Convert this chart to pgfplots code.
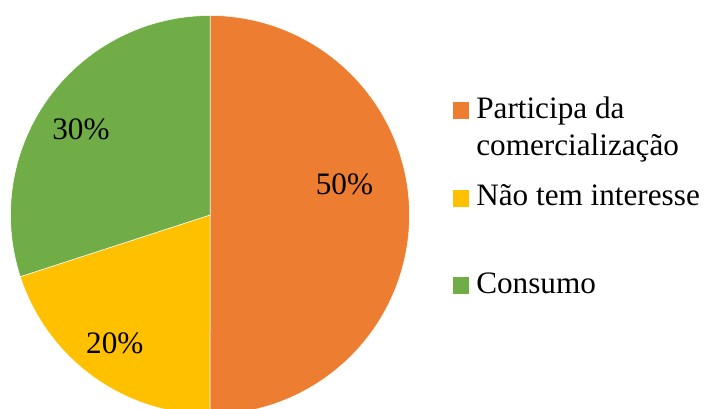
\documentclass[border=0pt]{standalone}
\usepackage{pgfplots}
\usepackage{pgfplotstable}
\pgfplotsset{compat=1.18}
\usepackage{fontspec}
\setmainfont{Liberation Serif}

\definecolor{sliceOrange}{HTML}{ED7D31}
\definecolor{sliceYellow}{HTML}{FFC000}
\definecolor{sliceGreen}{HTML}{70AD47}

% Shares in percent, drawn clockwise from 12 o'clock.
% lr = radius of the percentage label, loff = angular nudge of the label.
\pgfplotstableread{
share lr  loff
50    138 13
20    160 -0.5
30    155 2.4
}\pietable

\pgfplotstablegetelem{0}{share}\of\pietable\edef\sA{\pgfplotsretval}
\pgfplotstablegetelem{1}{share}\of\pietable\edef\sB{\pgfplotsretval}
\pgfplotstablegetelem{2}{share}\of\pietable\edef\sC{\pgfplotsretval}
\pgfplotstablegetelem{0}{lr}\of\pietable\edef\rA{\pgfplotsretval}
\pgfplotstablegetelem{1}{lr}\of\pietable\edef\rB{\pgfplotsretval}
\pgfplotstablegetelem{2}{lr}\of\pietable\edef\rC{\pgfplotsretval}
\pgfplotstablegetelem{0}{loff}\of\pietable\edef\oA{\pgfplotsretval}
\pgfplotstablegetelem{1}{loff}\of\pietable\edef\oB{\pgfplotsretval}
\pgfplotstablegetelem{2}{loff}\of\pietable\edef\oC{\pgfplotsretval}

% pie geometry (axis units = pt)
\def\cx{210}
\def\cy{193}
\def\R{199.5}

% slice boundaries in degrees
\pgfmathsetmacro{\aA}{90}
\pgfmathsetmacro{\aB}{\aA-3.6*\sA}
\pgfmathsetmacro{\aC}{\aB-3.6*\sB}
\pgfmathsetmacro{\aD}{\aC-3.6*\sC}

% label positions
\pgfmathsetmacro{\lxA}{\cx+\rA*cos((\aA+\aB)/2+\oA)}
\pgfmathsetmacro{\lyA}{\cy+\rA*sin((\aA+\aB)/2+\oA)}
\pgfmathsetmacro{\lxB}{\cx+\rB*cos((\aB+\aC)/2+\oB)}
\pgfmathsetmacro{\lyB}{\cy+\rB*sin((\aB+\aC)/2+\oB)}
\pgfmathsetmacro{\lxC}{\cx+\rC*cos((\aC+\aD)/2+\oC)}
\pgfmathsetmacro{\lyC}{\cy+\rC*sin((\aC+\aD)/2+\oC)}

\newcommand{\bigfont}{\fontsize{31.2}{37}\selectfont}
\newcommand{\pct}[1]{\pgfmathprintnumber[assume math mode=true]{#1}\%}

\begin{document}
\begin{tikzpicture}
\begin{axis}[
  width=707pt, height=408pt, scale only axis,
  xmin=0, xmax=707, ymin=0, ymax=408,
  hide axis, clip=true,
  legend cell align=left,
  legend image code/.code={\fill[#1,draw=none] (0pt,-1pt) rectangle (16.6pt,15.6pt);},
  legend style={
    at={(axis cs:452.7,320)}, anchor=north west,
    draw=none, fill=none, inner sep=0pt, outer sep=0pt,
    column sep=7pt, row sep=0pt,
    font=\bigfont,
    nodes={inner sep=0pt, text height=30pt, text depth=57.5pt, anchor=base west},
  },
]
\addplot[fill=sliceOrange, draw=white, line width=0.5pt, domain=\aB:\aA, samples=181]
  ({\cx+\R*cos(x)}, {\cy+\R*sin(x)}) -- (axis cs:\cx,\cy) -- cycle;
\addlegendentry{\vtop{\hbox{Participa da}\hbox{comercialização}}}
\addplot[fill=sliceYellow, draw=white, line width=0.5pt, domain=\aC:\aB, samples=91]
  ({\cx+\R*cos(x)}, {\cy+\R*sin(x)}) -- (axis cs:\cx,\cy) -- cycle;
\addlegendentry{Não tem interesse}
\addplot[fill=sliceGreen, draw=white, line width=0.5pt, domain=\aD:\aC, samples=121]
  ({\cx+\R*cos(x)}, {\cy+\R*sin(x)}) -- (axis cs:\cx,\cy) -- cycle;
\addlegendentry{Consumo}

\node[font=\bigfont, inner sep=0pt] at (axis cs:\lxA,\lyA) {\pct{\sA}};
\node[font=\bigfont, inner sep=0pt] at (axis cs:\lxB,\lyB) {\pct{\sB}};
\node[font=\bigfont, inner sep=0pt] at (axis cs:\lxC,\lyC) {\pct{\sC}};
\end{axis}
\pgfresetboundingbox
\path[use as bounding box] (0,0) rectangle (707pt,408pt);
\end{tikzpicture}
\end{document}
